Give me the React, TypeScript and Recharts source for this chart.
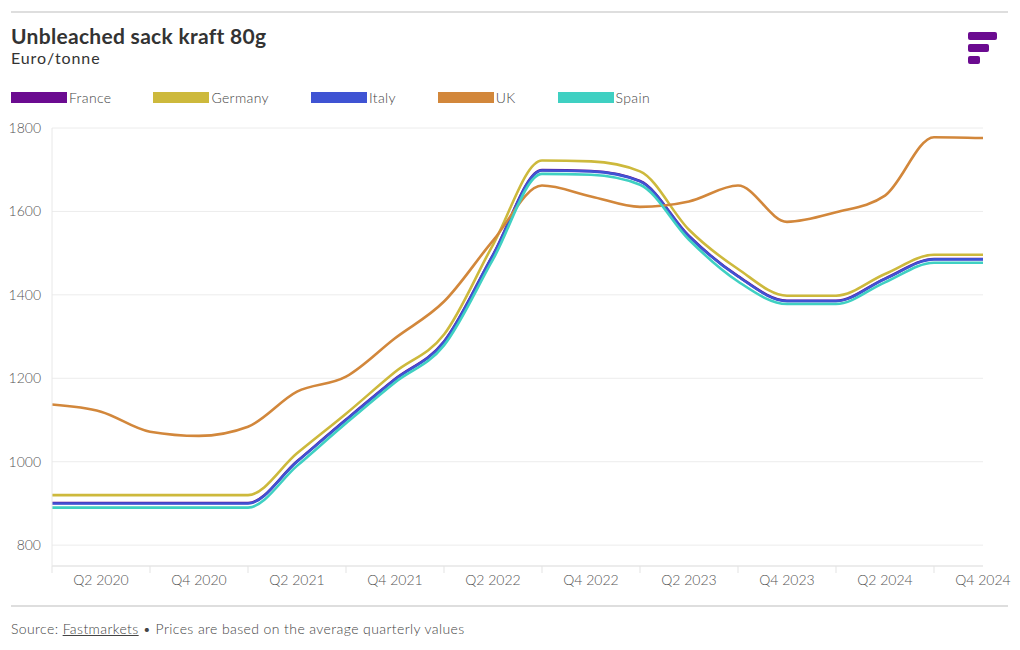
import React from 'react';
import { LineChart, Line, XAxis, YAxis, CartesianGrid } from 'recharts';

const quarters = [
  'Q1 2020', 'Q2 2020', 'Q3 2020', 'Q4 2020',
  'Q1 2021', 'Q2 2021', 'Q3 2021', 'Q4 2021',
  'Q1 2022', 'Q2 2022', 'Q3 2022', 'Q4 2022',
  'Q1 2023', 'Q2 2023', 'Q3 2023', 'Q4 2023',
  'Q1 2024', 'Q2 2024', 'Q3 2024', 'Q4 2024',
];

const france = [901, 901, 901, 901, 901, 1001, 1101, 1198, 1288, 1496, 1699, 1697, 1673, 1541, 1445, 1386, 1386, 1439, 1486, 1486];
const germany = [920, 920, 920, 920, 920, 1020, 1115, 1215, 1305, 1520, 1722, 1720, 1696, 1556, 1462, 1398, 1398, 1450, 1496, 1496];
const italy = [900, 900, 900, 900, 900, 1000, 1100, 1197, 1287, 1495, 1698, 1696, 1672, 1540, 1444, 1385, 1385, 1438, 1485, 1485];
const uk = [1137, 1120, 1072, 1062, 1084, 1168, 1204, 1296, 1384, 1530, 1662, 1636, 1611, 1624, 1662, 1575, 1598, 1638, 1778, 1776];
const spain = [890, 890, 890, 890, 890, 990, 1092, 1190, 1279, 1485, 1690, 1688, 1664, 1532, 1432, 1378, 1378, 1430, 1477, 1477];

const yTicks = [800, 1000, 1200, 1400, 1600, 1800];

const seriesNames = ['France', 'Germany', 'Italy', 'UK', 'Spain'];
const seriesColors = ['#6b0b90', '#cdb93c', '#3f53d3', '#d2873b', '#3fd0c2'];
const seriesValues = [france, germany, italy, uk, spain];

const data = quarters.map((q, i) => {
  const row: Record<string, string | number> = { q };
  seriesNames.forEach((n, k) => {
    row[n] = seriesValues[k][i];
  });
  return row;
});

const FONT = 'Lato, "Open Sans", sans-serif';

const QuarterTick = (props: any) => {
  const { x, y, payload } = props;
  const idx = payload.index;
  if (idx % 2 === 0) {
    return <line x1={x} x2={x} y1={y} y2={y + 7} stroke="#e3e3e3" strokeWidth={1} />;
  }
  return (
    <text x={x} y={y + 19} textAnchor="middle" fill="#555" fontSize={14} fontWeight={300} fontFamily={FONT}>
      {payload.value}
    </text>
  );
};

export default function App() {
  return (
    <div style={{ position: 'absolute', left: 0, top: 0, width: 1020, height: 650, background: '#fff', fontFamily: FONT, color: '#333' }}>
      <div style={{ position: 'absolute', left: 11, top: 11, width: 997, height: 2, background: '#dedede' }} />
      <div style={{ position: 'absolute', left: 11, top: 23, fontSize: 21, fontWeight: 700, color: '#333', lineHeight: '26px', letterSpacing: 0.3 }}>
        Unbleached sack kraft 80g
      </div>
      <div style={{ position: 'absolute', left: 11, top: 48, fontSize: 16, fontWeight: 400, color: '#333', lineHeight: '20px', letterSpacing: 0.9 }}>
        Euro/tonne
      </div>
      <svg style={{ position: 'absolute', left: 960, top: 25 }} width={45} height={45}>
        <rect x={8} y={7} width={29} height={8} rx={2} fill="#6b0b90" />
        <rect x={8} y={19} width={21} height={8} rx={2} fill="#6b0b90" />
        <rect x={8} y={31} width={12} height={8} rx={2} fill="#6b0b90" />
      </svg>
      <div style={{ position: 'absolute', left: 11, top: 87, display: 'flex', alignItems: 'center', height: 20 }}>
        {seriesNames.map((n, k) => (
          <div key={n} style={{ display: 'flex', alignItems: 'center', marginRight: 42 }}>
            <div style={{ width: 56, height: 11, background: seriesColors[k], marginRight: 2 }} />
            <span style={{ fontSize: 14, fontWeight: 300, color: '#444', letterSpacing: 0.35 }}>{n}</span>
          </div>
        ))}
      </div>
      <div style={{ position: 'absolute', left: 0, top: 110 }}>
        <LineChart width={1020} height={500} data={data} margin={{ top: 18, right: 37, bottom: 14, left: 12 }}>
          <CartesianGrid vertical={false} stroke="#ececec" />
          <XAxis
            dataKey="q"
            interval={0}
            height={30}
            tickLine={false}
            tickSize={0}
            tickMargin={0}
            axisLine={{ stroke: '#e3e3e3' }}
            tick={<QuarterTick />}
          />
          <YAxis
            domain={[750, 1800]}
            ticks={yTicks}
            width={40}
            tickLine={false}
            tickSize={0}
            tickMargin={11}
            axisLine={{ stroke: '#e8e8e8' }}
            tick={{ fill: '#555', fontSize: 14, fontWeight: 300, fontFamily: FONT }}
            allowDataOverflow
          />
          {seriesNames.map((n, k) => (
            <Line
              key={n}
              type="monotone"
              dataKey={n}
              stroke={seriesColors[k]}
              strokeWidth={2.6}
              dot={false}
              activeDot={false}
              isAnimationActive={false}
            />
          ))}
        </LineChart>
      </div>
      <div style={{ position: 'absolute', left: 11, top: 620, fontSize: 14, fontWeight: 300, color: '#444', lineHeight: '18px', letterSpacing: 0.4 }}>
        Source: <span style={{ textDecoration: 'underline' }}>Fastmarkets</span> • Prices are based on the average quarterly values
      </div>
      <div style={{ position: 'absolute', left: 11, top: 605, width: 997, height: 2, background: '#dedede' }} />
    </div>
  );
}
